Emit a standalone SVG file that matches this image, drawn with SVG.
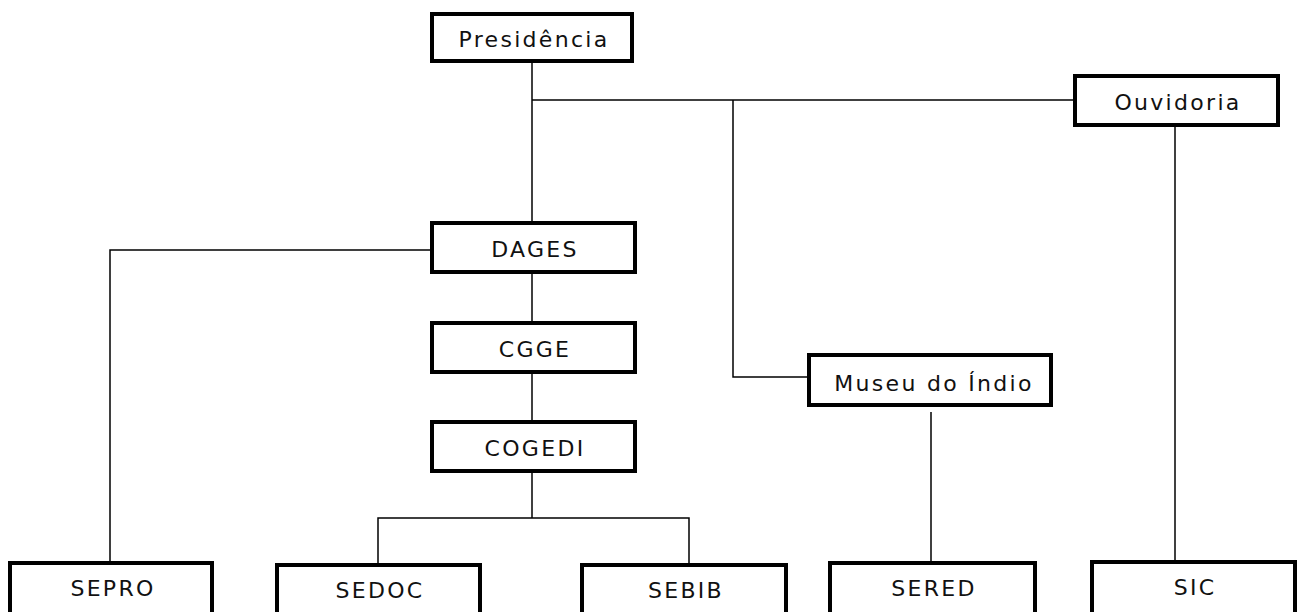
<svg xmlns="http://www.w3.org/2000/svg" width="1298" height="612" viewBox="0 0 1298 612">
<style>
.box{fill:#fff;stroke:#000;stroke-width:4}
.lbl{font-family:"DejaVu Sans",sans-serif;font-size:22px;letter-spacing:2.3px;text-anchor:middle;fill:#111}
.con{fill:none;stroke:#000;stroke-width:1.5}
</style>
<rect width="1298" height="612" fill="#fff"/>
<g id="connectors">
<path class="con" d="M532,63 V221"/>
<path class="con" d="M532,100 H1073"/>
<path class="con" d="M733,100 V377 H807"/>
<path class="con" d="M1175,127 V560"/>
<path class="con" d="M430,250 H110 V561"/>
<path class="con" d="M532,274 V321"/>
<path class="con" d="M532,374 V420"/>
<path class="con" d="M532,473 V518"/>
<path class="con" d="M378,563 V518 H689 V563"/>
<path class="con" d="M931,412 V561"/>
</g>
<g id="presidencia"><rect class="box" x="432" y="14" width="200" height="47"/><text class="lbl" x="534" y="47">Presidência</text></g>
<g id="ouvidoria"><rect class="box" x="1075" y="76" width="203" height="49"/><text class="lbl" x="1178" y="110">Ouvidoria</text></g>
<g id="dages"><rect class="box" x="432" y="223" width="203" height="49"/><text class="lbl" x="535" y="257">DAGES</text></g>
<g id="cgge"><rect class="box" x="432" y="323" width="203" height="49"/><text class="lbl" x="535" y="357">CGGE</text></g>
<g id="cogedi"><rect class="box" x="432" y="422" width="203" height="49"/><text class="lbl" x="535" y="456">COGEDI</text></g>
<g id="museu"><rect class="box" x="809" y="355" width="242" height="50"/><text class="lbl" x="934" y="391">Museu do Índio</text></g>
<g id="sepro"><rect class="box" x="10" y="563" width="202" height="60"/><text class="lbl" x="113" y="596">SEPRO</text></g>
<g id="sedoc"><rect class="box" x="277" y="565" width="203" height="60"/><text class="lbl" x="380" y="598">SEDOC</text></g>
<g id="sebib"><rect class="box" x="582" y="565" width="204" height="60"/><text class="lbl" x="686" y="598">SEBIB</text></g>
<g id="sered"><rect class="box" x="830" y="563" width="205" height="60"/><text class="lbl" x="934" y="596">SERED</text></g>
<g id="sic"><rect class="box" x="1092" y="562" width="203" height="60"/><text class="lbl" x="1195" y="595">SIC</text></g>
</svg>
